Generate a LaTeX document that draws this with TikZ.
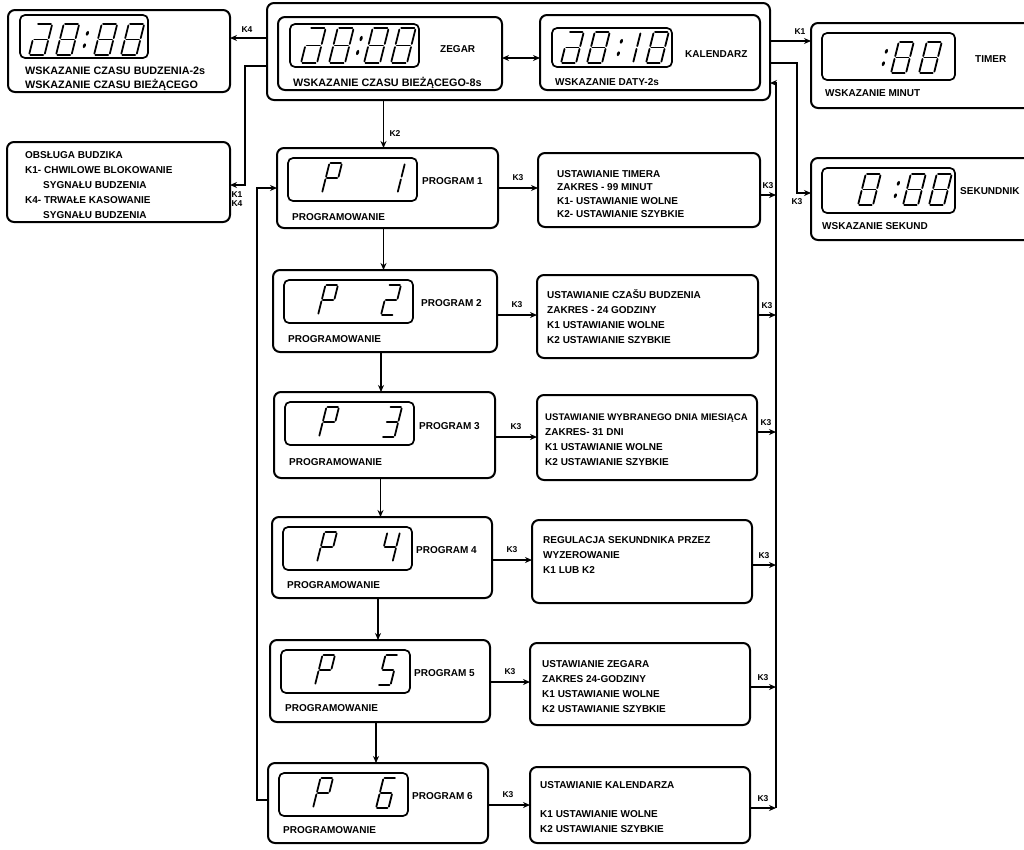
\documentclass[tikz,border=0pt]{standalone}
\usepackage{fontspec}
\usetikzlibrary{arrows.meta}
\newfontfamily\lblf[WordSpace=2.2]{Liberation Sans}
\newfontfamily\lblg{Liberation Sans}
% seven-segment strokes (local: width 10, height 20, origin bottom-left)
\def\zsa{(0.9,-20) -- (9.1,-20)}
\def\zsb{(10,-19.1) -- (10,-10.9)}
\def\zsc{(10,-9.1) -- (10,-0.9)}
\def\zsd{(0.9,0) -- (9.1,0)}
\def\zse{(0,-0.9) -- (0,-9.1)}
\def\zsf{(0,-10.9) -- (0,-19.1)}
\def\zsg{(0.9,-10) -- (9.1,-10)}
\newcommand\sevdig[5]{%
  \begin{scope}[shift={(#1,#2)}, xslant=0.25, xscale=#3, yscale=#4]
    \foreach \sg in {#5} {\draw[segl] \csname zs\sg\endcsname;}
  \end{scope}}
\newcommand\sevcol[3]{%
  \begin{scope}[shift={(#1,#2)}, xslant=0.25, yscale=#3]
    \fill (0,-6) circle (1.5pt);
    \fill (0,-14) circle (1.5pt);
  \end{scope}}
\newcommand\bx[6][box]{\node[#1, minimum width={#5pt-#3pt}, minimum height={#6pt-#4pt}] (#2) at (#3,#4) {};}
\begin{document}
\begin{tikzpicture}[x=1pt,y=-1pt,
  box/.style={draw, line width=2pt, rounded corners=7pt, inner sep=0pt, outer sep=0pt, anchor=north west},
  disp/.style={box, line width=1.7pt, rounded corners=5pt},
  txt/.style={font=\lblf\bfseries\fontsize{10}{12}\selectfont, inner sep=0pt, anchor=base west},
  txtL/.style={txt, font=\lblf\bfseries\fontsize{10.8}{12}\selectfont},
  txtN/.style={txt, font=\lblg\bfseries\fontsize{9.6}{12}\selectfont},
  klab/.style={font=\lblf\bfseries\fontsize{8.5}{10}\selectfont, inner sep=0pt},
  conn/.style={line width=1.6pt},
  arr/.style={conn, -{Stealth[length=7pt,width=6pt]}},
  arr2/.style={conn, {Stealth[length=7pt,width=6pt]}-{Stealth[length=7pt,width=6pt]}},
  segl/.style={line width=1.8pt, line cap=round}]
\useasboundingbox (0,0) rectangle (1024,849);
\clip (0,0) rectangle (1024,849);
\fill[white] (0,0) rectangle (1024,849);

% ---------- alarm display (top left)
\bx{budz}{8}{10}{230}{92}
\bx[disp]{budzD}{20}{15}{148}{58}
\sevdig{29}{55}{1.55}{1.55}{a,b,c,d,e,g}
\sevdig{56}{55}{1.55}{1.55}{a,b,c,d,e,f,g}
\sevcol{82}{55}{1.55}
\sevdig{94}{55}{1.55}{1.55}{a,b,c,d,e,f,g}
\sevdig{121}{55}{1.55}{1.55}{a,b,c,d,e,f,g}
\node[txtL] (budzT1) at (25,74) {WSKAZANIE CZASU BUDZENIA-2s};
\node[txtL] (budzT2) at (25,88) {WSKAZANIE CZASU BIEŻĄCEGO};

% ---------- alarm service box
\bx{obs}{7}{142}{230}{222}
\node[txt] (obs1) at (25,158) {OBSŁUGA BUDZIKA};
\node[txt] (obs2) at (25,173) {K1- CHWILOWE BLOKOWANIE};
\node[txt] (obs3) at (43,188) {SYGNAŁU BUDZENIA};
\node[txt] (obs4) at (25,203) {K4- TRWAŁE KASOWANIE};
\node[txt] (obs5) at (43,218) {SYGNAŁU BUDZENIA};

% ---------- main clock group
\bx{outer}{267}{3}{770}{100}
\bx{zeg}{278}{17}{502}{90}
\bx[disp]{zegD}{290}{24}{419}{67}
\sevdig{301}{63}{1.6}{1.75}{a,b,c,d,e,g}
\sevdig{329}{63}{1.6}{1.75}{a,b,c,d,e,f,g}
\sevcol{355}{63}{1.75}
\sevdig{364}{63}{1.6}{1.75}{a,b,c,d,e,f,g}
\sevdig{391}{63}{1.6}{1.75}{a,b,c,d,e,f,g}
\node[txt] (zegL) at (440,52) {ZEGAR};
\node[txtL] (zegT) at (293,86) {WSKAZANIE CZASU BIEŻĄCEGO-8s};

\bx{kal}{540}{15}{760}{90}
\bx[disp]{kalD}{552}{28}{672}{67}
\sevdig{561}{63}{1.5}{1.55}{a,b,c,d,e,g}
\sevdig{587}{63}{1.5}{1.55}{a,b,c,d,e,f,g}
\sevcol{616}{63}{1.55}
\sevdig{633}{63}{1.5}{1.55}{e,f}
\sevdig{646}{63}{1.5}{1.55}{a,b,c,d,e,f,g}
\node[txt] (kalL) at (685,57) {KALENDARZ};
\node[txt] (kalT) at (555,85) {WSKAZANIE DATY-2s};

% ---------- timer and stopwatch (right)
\bx{tim}{811}{23}{1045}{108}
\bx[disp]{timD}{822}{33}{955}{80}
\sevcol{881}{73}{1.55}
\sevdig{891}{73}{1.5}{1.55}{a,b,c,d,e,f,g}
\sevdig{919}{73}{1.5}{1.55}{a,b,c,d,e,f,g}
\node[txt] (timL) at (975,62) {TIMER};
\node[txt] (timT) at (825,96) {WSKAZANIE MINUT};

\bx{sek}{811}{158}{1045}{240}
\bx[disp]{sekD}{822}{168}{955}{213}
\sevdig{858}{205}{1.5}{1.55}{a,b,c,d,e,f,g}
\sevcol{893}{205}{1.55}
\sevdig{903}{205}{1.5}{1.55}{a,b,c,d,e,f,g}
\sevdig{929}{205}{1.5}{1.55}{a,b,c,d,e,f,g}
\node[txt] (sekL) at (960,194) {SEKUNDNIK};
\node[txt] (sekT) at (822,229) {WSKAZANIE SEKUND};

% ---------- program boxes
\bx{P1}{277}{148}{498}{228}
\bx[disp]{P1D}{288}{158}{417}{201}
\sevdig{322}{193}{1.25}{1.5}{a,b,e,f,g}
\sevdig{385}{193}{1.25}{1.5}{b,c}
\node[txt] (P1a) at (422,184) {PROGRAM 1};
\node[txt] (P1b) at (292,220) {PROGRAMOWANIE};

\bx{P2}{273}{270}{497}{352}
\bx[disp]{P2D}{284}{280}{413}{323}
\sevdig{318}{315}{1.25}{1.5}{a,b,e,f,g}
\sevdig{381}{315}{1.25}{1.5}{a,b,g,e,d}
\node[txt] (P2a) at (421,306) {PROGRAM 2};
\node[txt] (P2b) at (288,342) {PROGRAMOWANIE};

\bx{P3}{274}{392}{495}{478}
\bx[disp]{P3D}{285}{402}{414}{445}
\sevdig{319}{437}{1.25}{1.5}{a,b,e,f,g}
\sevdig{382}{437}{1.25}{1.5}{a,b,g,c,d}
\node[txt] (P3a) at (419,429) {PROGRAM 3};
\node[txt] (P3b) at (289,465) {PROGRAMOWANIE};

\bx{P4}{272}{517}{492}{598}
\bx[disp]{P4D}{283}{527}{412}{570}
\sevdig{317}{562}{1.25}{1.5}{a,b,e,f,g}
\sevdig{380}{562}{1.25}{1.5}{f,g,b,c}
\node[txt] (P4a) at (416,553) {PROGRAM 4};
\node[txt] (P4b) at (287,588) {PROGRAMOWANIE};

\bx{P5}{270}{640}{490}{722}
\bx[disp]{P5D}{281}{650}{410}{693}
\sevdig{315}{685}{1.25}{1.5}{a,b,e,f,g}
\sevdig{378}{685}{1.25}{1.5}{a,f,g,c,d}
\node[txt] (P5a) at (414,676) {PROGRAM 5};
\node[txt] (P5b) at (285,711) {PROGRAMOWANIE};

\bx{P6}{268}{763}{488}{843}
\bx[disp]{P6D}{279}{773}{408}{816}
\sevdig{313}{808}{1.25}{1.5}{a,b,e,f,g}
\sevdig{376}{808}{1.25}{1.5}{a,f,g,e,c,d}
\node[txt] (P6a) at (412,799) {PROGRAM 6};
\node[txt] (P6b) at (283,833) {PROGRAMOWANIE};

% ---------- setting description boxes
\bx{T1}{538}{153}{760}{227}
\node[txt] (T1a) at (557,177) {USTAWIANIE TIMERA};
\node[txt] (T1b) at (557,190) {ZAKRES - 99 MINUT};
\node[txt] (T1c) at (557,204) {K1- USTAWIANIE WOLNE};
\node[txt] (T1d) at (557,217) {K2- USTAWIANIE SZYBKIE};

\bx{T2}{537}{275}{758}{358}
\node[txt] (T2a) at (547,298) {USTAWIANIE CZAŠU BUDZENIA};
\node[txt] (T2b) at (547,313) {ZAKRES - 24 GODZINY};
\node[txt] (T2c) at (547,328) {K1 USTAWIANIE WOLNE};
\node[txt] (T2d) at (547,343) {K2 USTAWIANIE SZYBKIE};

\bx{T3}{537}{395}{757}{480}
\node[txtN] (T3a) at (545,420) {USTAWIANIE WYBRANEGO DNIA MIESIĄCA};
\node[txt] (T3b) at (545,435) {ZAKRES- 31 DNI};
\node[txt] (T3c) at (545,450) {K1 USTAWIANIE WOLNE};
\node[txt] (T3d) at (545,465) {K2 USTAWIANIE SZYBKIE};

\bx{T4}{532}{520}{752}{603}
\node[txt] (T4a) at (543,543) {REGULACJA SEKUNDNIKA PRZEZ};
\node[txt] (T4b) at (543,558) {WYZEROWANIE};
\node[txt] (T4c) at (543,573) {K1 LUB K2};

\bx{T5}{530}{643}{750}{725}
\node[txt] (T5a) at (542,667) {USTAWIANIE ZEGARA};
\node[txt] (T5b) at (542,682) {ZAKRES 24-GODZINY};
\node[txt] (T5c) at (542,697) {K1 USTAWIANIE WOLNE};
\node[txt] (T5d) at (542,712) {K2 USTAWIANIE SZYBKIE};

\bx{T6}{530}{767}{750}{843}
\node[txt] (T6a) at (540,788) {USTAWIANIE KALENDARZA};
\node[txt] (T6c) at (540,817) {K1 USTAWIANIE WOLNE};
\node[txt] (T6d) at (540,832) {K2 USTAWIANIE SZYBKIE};

% ---------- connectors, top
\coordinate (rK4) at (0,38);
\draw[arr] (outer.west |- rK4) -- (budz.east |- rK4);
\node[klab] (kK4) at (247,30) {K4};
\coordinate (rK1) at (245,66);
\coordinate (rObs) at (0,185);
\draw[arr] (outer.west |- rK1) -- (rK1) |- (obs.east |- rObs);
\node[klab] (kK1l) at (237,195) {K1};
\node[klab] (kK4l) at (237,204) {K4};

\coordinate (rZK) at (0,58);
\draw[arr2] (zeg.east |- rZK) -- (kal.west |- rZK);

\coordinate (rK1t) at (0,41);
\draw[arr] (outer.east |- rK1t) -- (tim.west |- rK1t);
\node[klab] (kK1r) at (800,32) {K1};
\coordinate (rK3a) at (797,63);
\coordinate (rK3b) at (0,193);
\draw[arr] (outer.east |- rK3a) -- (rK3a) |- (sek.west |- rK3b);
\node[klab] (kK3s) at (797,202) {K3};

\coordinate (k2x) at ([xshift=-4pt]P1.north);
\draw[arr] (k2x |- outer.south) -- (k2x);
\node[klab] (kK2) at (395,134) {K2};

% ---------- program chain
\coordinate (c1) at ([xshift=-4pt]P1.south);
\draw[arr] (c1) -- (c1 |- P2.north);
\coordinate (c2) at ([xshift=-4pt]P2.south);
\draw[arr] (c2) -- (c2 |- P3.north);
\coordinate (c3) at ([xshift=-4pt]P3.south);
\draw[arr] (c3) -- (c3 |- P4.north);
\coordinate (c4) at ([xshift=-4pt]P4.south);
\draw[arr] (c4) -- (c4 |- P5.north);
\coordinate (c5) at ([xshift=-4pt]P5.south);
\draw[arr] (c5) -- (c5 |- P6.north);

\coordinate (loopx) at (257,0);
\coordinate (rowL6) at (0,800);
\coordinate (rowL1) at (0,188);
\draw[arr] (P6.west |- rowL6) -- (loopx |- rowL6) -- (loopx |- rowL1) -- (P1.west |- rowL1);

% ---------- K3 program -> description
\coordinate (rp1) at (0,188);
\coordinate (rp2) at (0,315);
\coordinate (rp3) at (0,437);
\coordinate (rp4) at (0,560);
\coordinate (rp5) at (0,682);
\coordinate (rp6) at (0,805);
\draw[arr] (P1.east |- rp1) -- (T1.west |- rp1);
\draw[arr] (P2.east |- rp2) -- (T2.west |- rp2);
\draw[arr] (P3.east |- rp3) -- (T3.west |- rp3);
\draw[arr] (P4.east |- rp4) -- (T4.west |- rp4);
\draw[arr] (P5.east |- rp5) -- (T5.west |- rp5);
\draw[arr] (P6.east |- rp6) -- (T6.west |- rp6);
\node[klab] (kp1) at (518,178) {K3};
\node[klab] (kp2) at (517,305) {K3};
\node[klab] (kp3) at (516,427) {K3};
\node[klab] (kp4) at (512,550) {K3};
\node[klab] (kp5) at (510,672) {K3};
\node[klab] (kp6) at (508,795) {K3};

% ---------- K3 description -> return bus
\coordinate (rx) at (776,0);
\coordinate (rtop) at (776,83);
\coordinate (rt1) at (0,195);
\coordinate (rt2) at (0,315);
\coordinate (rt3) at (0,432);
\coordinate (rt4) at (0,565);
\coordinate (rt5) at (0,687);
\coordinate (rt6) at (0,808);
\draw[arr] (T1.east |- rt1) -- (rx |- rt1);
\draw[arr] (T2.east |- rt2) -- (rx |- rt2);
\draw[arr] (T3.east |- rt3) -- (rx |- rt3);
\draw[arr] (T4.east |- rt4) -- (rx |- rt4);
\draw[arr] (T5.east |- rt5) -- (rx |- rt5);
\draw[arr] (T6.east |- rt6) -- (rx |- rt6);
\draw[arr] (rx |- rt6) -- (rtop) -- (rtop -| outer.east);
\node[klab] (kt1) at (768,186) {K3};
\node[klab] (kt2) at (767,306) {K3};
\node[klab] (kt3) at (766,423) {K3};
\node[klab] (kt4) at (764,556) {K3};
\node[klab] (kt5) at (763,678) {K3};
\node[klab] (kt6) at (763,799) {K3};
\end{tikzpicture}
\end{document}
